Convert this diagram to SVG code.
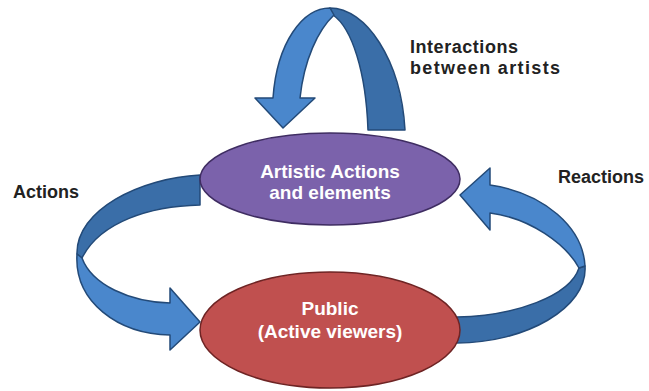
<svg xmlns="http://www.w3.org/2000/svg" width="649" height="391" viewBox="0 0 649 391">
<style>
.dark{fill:#3a6ea8;stroke:#234a78;stroke-width:1.5;stroke-linejoin:round}
.light{fill:#4a87cc;stroke:#234a78;stroke-width:1.5;stroke-linejoin:round}
.lbl{font-family:"Liberation Sans",Arial,sans-serif;font-weight:bold;font-size:18px;fill:#222}
.in{font-family:"Liberation Sans",Arial,sans-serif;font-weight:bold;font-size:19px;fill:#fff;text-anchor:middle}
</style>
<rect width="649" height="391" fill="#fff"/>
<g id="connectors">
  <g id="arrow-top">
    <path class="dark" d="M330,8 C366,8 401,60 405,130 L368,130 C366,72 352,28 333,15 Z"/>
    <path class="light" d="M255,98 L273,98 C277,42 303,8 330,8 L334,15 C318,30 304,60 300,98 L315,98 L283,128 Z"/>
  </g>
  <g id="arrow-left">
    <path class="dark" d="M200,175 L200,205 C150,206 100,222 82,258 L77,254 C76,210 140,178 200,175 Z"/>
    <path class="light" d="M77,254 L82,258 C92,285 130,302 170,303 L170,288 L200,322 L170,350 L170,335 C118,334 74,302 77,254 Z"/>
  </g>
  <g id="arrow-right">
    <path class="dark" d="M457,317 C515,316 570,296 579,268 L585,266 C588,308 525,343 457,343 Z"/>
    <path class="light" d="M585,266 L579,268 C566,244 530,218 490,213 L490,230 L460,195 L490,168 L490,185 C545,193 583,228 585,266 Z"/>
  </g>
</g>
<g id="node-artistic">
  <ellipse cx="330" cy="179" rx="130" ry="46" fill="#7b62ab" stroke="#3f2d62" stroke-width="1.5"/>
  <text class="in" x="330" y="178">Artistic Actions</text>
  <text class="in" x="330" y="199">and elements</text>
</g>
<g id="node-public">
  <ellipse cx="330" cy="330" rx="130" ry="58" fill="#c0504f" stroke="#6e2424" stroke-width="1.5"/>
  <text class="in" x="330" y="315">Public</text>
  <text class="in" x="330" y="338">(Active viewers)</text>
</g>
<g id="labels">
  <text class="lbl" x="410" y="53" textLength="108" lengthAdjust="spacing">Interactions</text>
  <text class="lbl" x="410" y="74" textLength="150" lengthAdjust="spacing">between artists</text>
  <text class="lbl" x="13" y="198">Actions</text>
  <text class="lbl" x="558" y="183">Reactions</text>
</g>
</svg>
